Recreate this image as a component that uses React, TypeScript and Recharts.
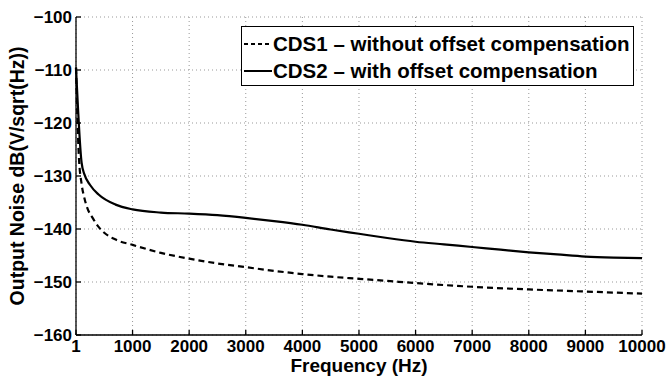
import { LineChart, Line, XAxis, YAxis, CartesianGrid, Legend } from 'recharts';

// CDS1 - without offset compensation (dashed)
const cds1Freq = [1, 50, 100, 150, 200, 300, 400, 500, 700, 1000, 1500, 2000, 2500, 3000, 3500, 4000, 4500, 5000, 5500, 6000, 7000, 8000, 9000, 10000];
const cds1Noise = [-109.6, -126, -131.5, -134.2, -136, -138, -139.6, -140.7, -142.0, -143.0, -144.5, -145.6, -146.5, -147.2, -147.9, -148.5, -149.0, -149.4, -149.8, -150.2, -150.9, -151.4, -151.8, -152.2];

// CDS2 - with offset compensation (solid)
const cds2Freq = [1, 100, 150, 250, 400, 700, 1000, 1500, 2000, 2500, 3000, 3500, 4000, 4500, 5000, 5500, 6000, 6500, 7000, 7500, 8000, 8500, 9000, 9500, 10000];
const cds2Noise = [-109.5, -127.5, -129.7, -131.7, -133.5, -135.4, -136.3, -136.9, -137.1, -137.4, -137.9, -138.5, -139.2, -140.1, -140.9, -141.7, -142.4, -142.9, -143.4, -143.9, -144.4, -144.8, -145.2, -145.4, -145.5];

const seriesNames = ['CDS1 \u2013 without offset compensation', 'CDS2 \u2013 with offset compensation'];

const xTicks = [1, 1000, 2000, 3000, 4000, 5000, 6000, 7000, 8000, 9000, 10000];
const yTicks = [-160, -150, -140, -130, -120, -110, -100];

const xLabel = 'Frequency (Hz)';
const yLabel = 'Output Noise dB(V/sqrt(Hz))';

const FONT = '"Liberation Sans", Arial, Helvetica, sans-serif';

const toRows = (fs: number[], vs: number[]) => fs.map((f, i) => ({ freq: f, noise: vs[i] }));

const cds1Data = toRows(cds1Freq, cds1Noise);
const cds2Data = toRows(cds2Freq, cds2Noise);

const axisStroke = { stroke: '#000', strokeWidth: 1.3 };

const fmtY = (v: number) => (v < 0 ? '\u2212' + Math.abs(v) : String(v));

const XTick = (props: any) => {
  const { x, y, payload } = props;
  return (
    <text x={x} y={y} dy="0.71em" textAnchor="middle" fontFamily={FONT} fontWeight="bold" fontSize={17} fill="#000">
      {payload.value}
    </text>
  );
};

const YTick = (props: any) => {
  const { x, y, payload } = props;
  return (
    <text x={x} y={y} dy="0.36em" textAnchor="end" fontFamily={FONT} fontWeight="bold" fontSize={17} fill="#000">
      {fmtY(payload.value)}
    </text>
  );
};

const LegendBox = () => (
  <div
    style={{
      width: 393,
      height: 60,
      boxSizing: 'border-box',
      border: '1.3px solid #000',
      background: '#fff',
      fontFamily: FONT,
      fontWeight: 'bold',
      fontSize: 20.5,
      paddingTop: 3,
    }}
  >
    {seriesNames.map((name, i) => (
      <div key={name} style={{ display: 'flex', alignItems: 'center', height: 27, whiteSpace: 'nowrap' }}>
        <svg width={30} height={10} style={{ marginLeft: 1 }}>
          <line
            x1={1}
            x2={29}
            y1={5}
            y2={5}
            stroke="#000"
            strokeWidth={2}
            strokeDasharray={i === 0 ? '4 3' : undefined}
          />
        </svg>
        <span>{name}</span>
      </div>
    ))}
  </div>
);

export default function App() {
  return (
    <div style={{ position: 'absolute', left: 0, top: 0, width: 667, height: 376, background: '#fff' }}>
      <LineChart width={667} height={376} margin={{ top: 17, right: 25, bottom: 0, left: 0 }}>
        <CartesianGrid stroke="#999" strokeDasharray="1 3" />
        <XAxis
          dataKey="freq"
          type="number"
          domain={[1, 10000]}
          ticks={xTicks}
          interval={0}
          height={41}
          tickSize={-5}
          tickMargin={10}
          tick={<XTick />}
          axisLine={axisStroke}
          tickLine={axisStroke}
          label={({ viewBox }: any) => (
            <text
              x={viewBox.x + viewBox.width / 2}
              y={371.5}
              textAnchor="middle"
              fontFamily={FONT}
              fontWeight="bold"
              fontSize={19}
              fill="#000"
            >
              {xLabel}
            </text>
          )}
        />
        <XAxis
          xAxisId="top"
          orientation="top"
          type="number"
          domain={[1, 10000]}
          ticks={xTicks}
          interval={0}
          height={0}
          tickSize={-5}
          tickFormatter={() => ''}
          axisLine={axisStroke}
          tickLine={axisStroke}
        />
        <YAxis
          type="number"
          domain={[-160, -100]}
          ticks={yTicks}
          interval={0}
          width={76}
          tickSize={-5}
          tickMargin={9}
          tick={<YTick />}
          axisLine={axisStroke}
          tickLine={axisStroke}
          label={({ viewBox }: any) => {
            const cy = viewBox.y + viewBox.height / 2;
            return (
              <text
                x={24}
                y={cy}
                transform={`rotate(-90 24 ${cy})`}
                textAnchor="middle"
                fontFamily={FONT}
                fontWeight="bold"
                fontSize={19.5}
                fill="#000"
              >
                {yLabel}
              </text>
            );
          }}
        />
        <YAxis
          yAxisId="right"
          orientation="right"
          type="number"
          domain={[-160, -100]}
          ticks={yTicks}
          interval={0}
          width={0}
          tickSize={-5}
          tickFormatter={() => ''}
          axisLine={axisStroke}
          tickLine={axisStroke}
        />
        <Line
          data={cds1Data}
          dataKey="noise"
          name={seriesNames[0]}
          type="monotone"
          stroke="#000"
          strokeWidth={2.2}
          strokeDasharray="6 4"
          dot={false}
          isAnimationActive={false}
        />
        <Line
          data={cds2Data}
          dataKey="noise"
          name={seriesNames[1]}
          type="monotone"
          stroke="#000"
          strokeWidth={2.2}
          dot={false}
          isAnimationActive={false}
        />
        <Legend
          layout="vertical"
          align="center"
          verticalAlign="middle"
          content={() => <LegendBox />}
          wrapperStyle={{ left: 241, top: 26, width: 393, height: 60 }}
        />
      </LineChart>
    </div>
  );
}
